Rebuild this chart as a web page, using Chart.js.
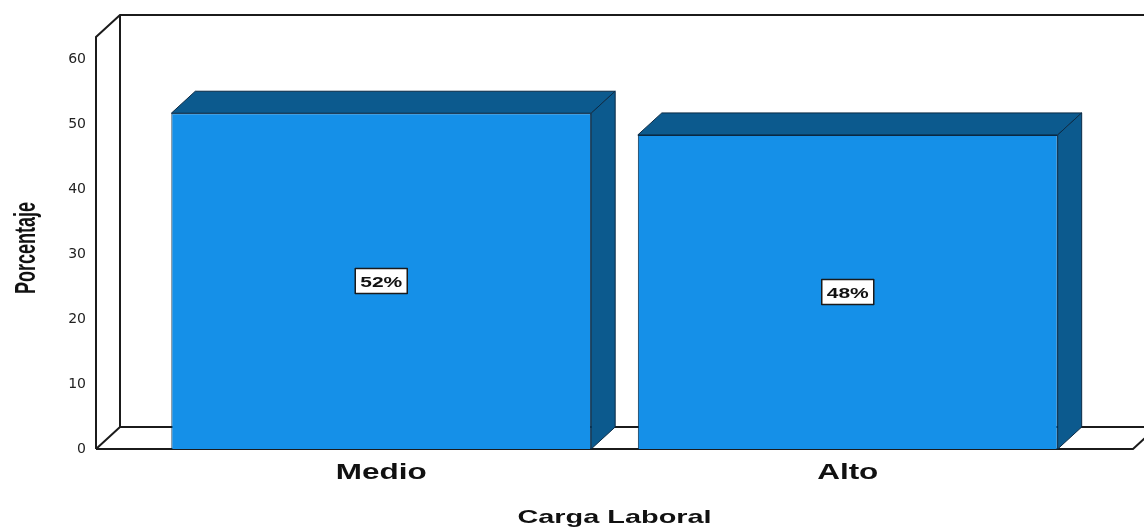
<!DOCTYPE html>
<html>
<head>
<meta charset="utf-8">
<script src="https://cdn.jsdelivr.net/npm/chart.js@4.4.1/dist/chart.umd.min.js"></script>
<style>
  html, body { margin: 0; padding: 0; background: #fff; }
  #wrap { width: 1144px; height: 527px; }
</style>
</head>
<body>
<div id="wrap"><canvas id="grafico" width="1144" height="527"></canvas></div>
<script>
const categorias = ['Medio', 'Alto'];
const porcentajes = [51.67, 48.33];
const ticksY = [0, 10, 20, 30, 40, 50, 60];
const tituloX = 'Carga Laboral';
const tituloY = 'Porcentaje';

// desplazamiento de la profundidad 3D
const DX = 24, DY = -22;
const AZUL = '#1590e8', AZUL_OSCURO = '#0c5a8e', BORDE = '#0a2a45';

// texto estirado en horizontal (la imagen original esta ensanchada)
function texto(ctx, txt, x, y, size, sx, rot) {
    ctx.save();
    ctx.translate(x, y);
    ctx.scale(sx, 1);
    if (rot) ctx.rotate(rot);
    ctx.font = 'bold ' + size + 'px "Liberation Sans", Arial, sans-serif';
    ctx.fillStyle = '#111';
    ctx.textAlign = 'center';
    ctx.textBaseline = 'alphabetic';
    ctx.fillText(txt, 0, 0);
    ctx.restore();
}

const grafico3d = {
    id: 'grafico3d',
    beforeDatasetsDraw(chart) {
        const ctx = chart.ctx, a = chart.chartArea;
        const y0 = chart.scales.y.getPixelForValue(0);
        const xl = a.left - 52, xr = a.right + 52;
        ctx.save();
        ctx.strokeStyle = '#1b1b1b';
        ctx.lineWidth = 2;
        ctx.beginPath();
        // pared izquierda y fondo
        ctx.moveTo(xl, y0); ctx.lineTo(xl, a.top);
        ctx.lineTo(xl + DX, a.top + DY); ctx.lineTo(xr + DX + 60, a.top + DY);
        ctx.moveTo(xl + DX, a.top + DY); ctx.lineTo(xl + DX, y0 + DY);
        ctx.lineTo(xr + DX, y0 + DY);
        // piso
        ctx.moveTo(xl, y0); ctx.lineTo(xl + DX, y0 + DY);
        ctx.moveTo(xl, y0); ctx.lineTo(xr, y0); ctx.lineTo(xr + DX, y0 + DY);
        ctx.stroke();
        ctx.restore();
    },
    afterDatasetsDraw(chart) {
        const ctx = chart.ctx;
        const meta = chart.getDatasetMeta(0);
        meta.data.forEach((bar, i) => {
            const p = bar.getProps(['x', 'y', 'width', 'base'], true);
            const l = p.x - p.width / 2, r = p.x + p.width / 2;
            ctx.save();
            ctx.fillStyle = AZUL_OSCURO;
            ctx.strokeStyle = BORDE;
            ctx.lineWidth = 1;
            ctx.lineJoin = 'round';
            // cara superior
            ctx.beginPath();
            ctx.moveTo(l, p.y); ctx.lineTo(l + DX, p.y + DY);
            ctx.lineTo(r + DX, p.y + DY); ctx.lineTo(r, p.y); ctx.closePath();
            ctx.fill(); ctx.stroke();
            // cara lateral
            ctx.beginPath();
            ctx.moveTo(r, p.y); ctx.lineTo(r + DX, p.y + DY);
            ctx.lineTo(r + DX, p.base + DY); ctx.lineTo(r, p.base); ctx.closePath();
            ctx.fill(); ctx.stroke();

            // etiqueta de porcentaje
            const cy = (p.y + p.base) / 2;
            const w = 52, h = 25;
            ctx.fillStyle = '#fff';
            ctx.fillRect(p.x - w / 2, cy - h / 2, w, h);
            ctx.strokeStyle = '#1a1a1a';
            ctx.lineWidth = 1.5;
            ctx.strokeRect(p.x - w / 2, cy - h / 2, w, h);
            ctx.restore();
            texto(ctx, Math.round(porcentajes[i]) + '%', p.x, cy + 6, 15, 1.4);
        });
    },
    afterDraw(chart) {
        const ctx = chart.ctx, a = chart.chartArea;
        const xs = chart.scales.x;
        categorias.forEach((c, i) => {
            texto(ctx, c, xs.getPixelForValue(i), 479, 22, 1.43);
        });
        texto(ctx, tituloX, (a.left + a.right) / 2, 523, 19, 1.52);
        texto(ctx, tituloY, 35, 248, 18, 1.6, -Math.PI / 2);
    }
};

new Chart(document.getElementById('grafico').getContext('2d'), {
    type: 'bar',
    data: {
        labels: categorias,
        datasets: [{
            label: 'Porcentaje',
            data: porcentajes,
            backgroundColor: AZUL,
            borderColor: BORDE,
            borderWidth: 1,
            barPercentage: 0.9,
            categoryPercentage: 1
        }]
    },
    options: {
        responsive: false,
        animation: false,
        layout: { padding: { top: 37, right: 63, bottom: 78, left: 0 } },
        plugins: { legend: { display: false }, tooltip: { enabled: false } },
        scales: {
            x: { display: false },
            y: {
                min: 0,
                max: 63.4,
                grid: { display: false, drawTicks: true, tickLength: 60 },
                border: { display: false },
                afterFit: s => { s.width = 148; },
                afterBuildTicks: s => { s.ticks = ticksY.map(v => ({ value: v })); },
                ticks: {
                    padding: 2,
                    color: '#222',
                    font: { family: '"DejaVu Sans", sans-serif', size: 14 }
                }
            }
        }
    },
    plugins: [grafico3d]
});
</script>
</body>
</html>
